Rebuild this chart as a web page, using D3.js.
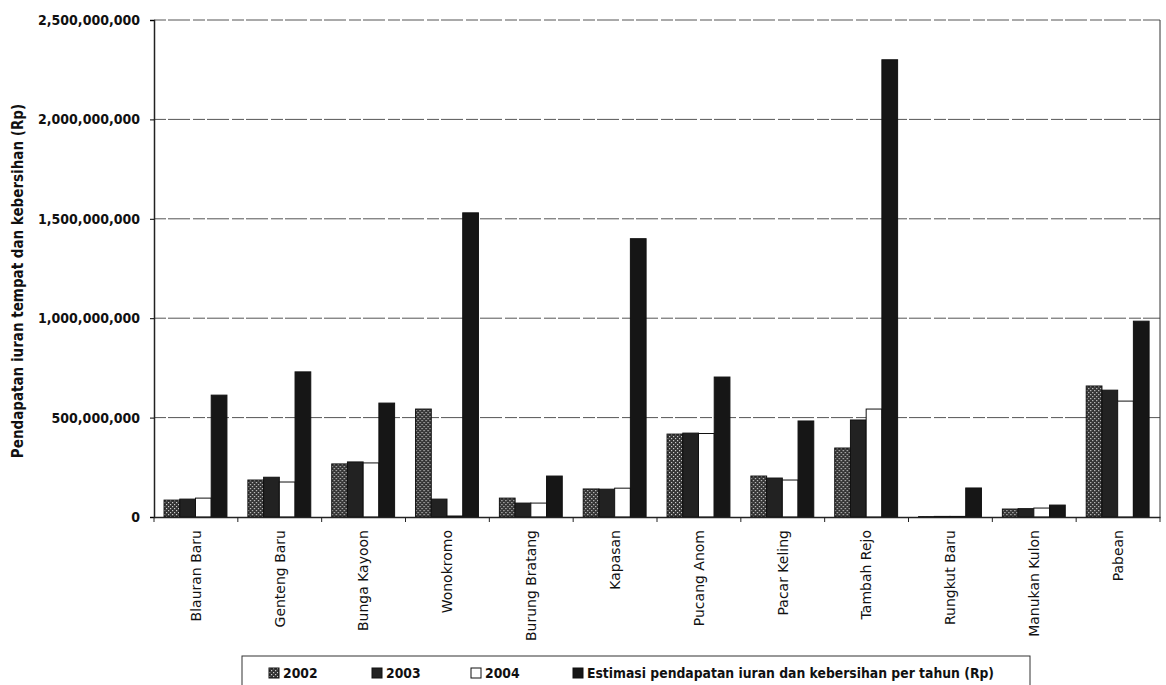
<!DOCTYPE html>
<html>
<head>
<meta charset="utf-8">
<script src="https://cdn.jsdelivr.net/npm/d3@7"></script>
<style>
  body { margin: 0; background: #fff; }
  svg { display: block; }
</style>
</head>
<body>
<div id="chart"></div>
<script>
// categories (kelurahan / pasar)
const categories = ["Blauran Baru", "Genteng Baru", "Bunga Kayoon", "Wonokromo", "Burung Bratang",
  "Kapasan", "Pucang Anom", "Pacar Keling", "Tambah Rejo", "Rungkut Baru", "Manukan Kulon", "Pabean"];

// series values (Rp)
const v2002 = [85e6, 186e6, 267e6, 543e6, 95e6, 141e6, 417e6, 206e6, 347e6, 2e6, 40e6, 659e6];
const v2003 = [90e6, 200e6, 277e6, 90e6, 70e6, 140e6, 422e6, 196e6, 488e6, 3e6, 42e6, 638e6];
const v2004 = [95e6, 176e6, 272e6, 5e6, 70e6, 145e6, 420e6, 186e6, 543e6, 3e6, 45e6, 583e6];
const vEstimasi = [613e6, 730e6, 573e6, 1530e6, 206e6, 1400e6, 704e6, 483e6, 2300e6, 146e6, 60e6, 985e6];

const seriesNames = ["2002", "2003", "2004", "Estimasi pendapatan iuran dan kebersihan per tahun (Rp)"];
const yTicks = [0, 500e6, 1000e6, 1500e6, 2000e6, 2500e6];

const allSeries = [v2002, v2003, v2004, vEstimasi];

const W = 1166, H = 685;
const plot = {left: 154, top: 20, right: 1160, bottom: 517};
const FONT = "'DejaVu Sans Condensed', 'DejaVu Sans', sans-serif";

const svg = d3.select("#chart").append("svg")
    .attr("width", W)
    .attr("height", H)
    .attr("font-family", FONT);

// fills: hatched, near black, white, black
const defs = svg.append("defs");
const pat = defs.append("pattern")
    .attr("id", "hatch")
    .attr("width", 4).attr("height", 4)
    .attr("patternUnits", "userSpaceOnUse");
pat.append("rect").attr("width", 4).attr("height", 4).attr("fill", "#333");
pat.append("rect").attr("x", 0).attr("y", 0).attr("width", 1.2).attr("height", 1.2).attr("fill", "#ccc");
pat.append("rect").attr("x", 2).attr("y", 2).attr("width", 1.2).attr("height", 1.2).attr("fill", "#ccc");

const fills = ["url(#hatch)", "#222", "#fff", "#161616"];

// scales
const xScale = d3.scaleBand()
    .domain(categories)
    .range([plot.left, plot.right]);

const bw = xScale.bandwidth();
const xSub = d3.scaleBand()
    .domain(d3.range(4))
    .range([bw * 0.12, bw * 0.87]);

const yScale = d3.scaleLinear()
    .domain([0, 2500e6])
    .range([plot.bottom, plot.top]);

// gridlines
svg.append("g")
    .selectAll("line")
    .data(yTicks.slice(1))
    .join("line")
    .attr("x1", plot.left).attr("x2", plot.right)
    .attr("y1", d => yScale(d)).attr("y2", d => yScale(d))
    .attr("stroke", "#555")
    .attr("stroke-width", 1)
    .attr("stroke-dasharray", "12,2,22,3");

// right border of plot area
svg.append("line")
    .attr("x1", plot.right).attr("x2", plot.right)
    .attr("y1", plot.top).attr("y2", plot.bottom)
    .attr("stroke", "#333");

// bars
const groups = svg.append("g")
    .selectAll("g")
    .data(categories)
    .join("g")
    .attr("transform", d => "translate(" + xScale(d) + ",0)");

groups.selectAll("rect")
    .data((d, i) => allSeries.map((s, k) => ({k: k, v: s[i]})))
    .join("rect")
    .attr("x", d => xSub(d.k))
    .attr("width", xSub.bandwidth())
    .attr("y", d => yScale(d.v))
    .attr("height", d => plot.bottom - yScale(d.v))
    .attr("fill", d => fills[d.k])
    .attr("stroke", "#111")
    .attr("stroke-width", 1);

// y axis
const yAxis = svg.append("g")
    .attr("transform", "translate(" + plot.left + ",0)")
    .call(d3.axisLeft(yScale)
        .tickValues(yTicks)
        .tickSize(4)
        .tickPadding(10)
        .tickFormat(d3.format(",")))
    .attr("font-family", FONT);
yAxis.select(".domain").attr("stroke", "#222").attr("stroke-width", 1.5);
yAxis.selectAll("text")
    .attr("fill", "#111")
    .style("font-size", "14px")
    .style("font-weight", "bold");

// x axis
const xAxis = svg.append("g")
    .attr("transform", "translate(0," + plot.bottom + ")")
    .call(d3.axisBottom(xScale).tickSize(0).tickPadding(0))
    .attr("font-family", "'DejaVu Sans', sans-serif");
xAxis.select(".domain").attr("stroke", "#222").attr("stroke-width", 1.5);
xAxis.selectAll("text")
    .attr("fill", "#111")
    .style("font-size", "14px")
    .attr("text-anchor", "end")
    .attr("transform", "rotate(-90)")
    .attr("x", -13)
    .attr("y", 0)
    .attr("dy", "0.35em");

// tick marks between categories
svg.append("g")
    .selectAll("line")
    .data(d3.range(categories.length + 1))
    .join("line")
    .attr("x1", i => plot.left + i * bw).attr("x2", i => plot.left + i * bw)
    .attr("y1", plot.bottom).attr("y2", plot.bottom + 5)
    .attr("stroke", "#222");

// y axis title
svg.append("text")
    .attr("transform", "translate(23,281) rotate(-90)")
    .attr("text-anchor", "middle")
    .style("font-size", "15px")
    .style("font-weight", "bold")
    .attr("fill", "#111")
    .text("Pendapatan iuran tempat dan kebersihan (Rp)");

// legend
const legend = svg.append("g");
legend.append("rect")
    .attr("x", 242).attr("y", 656)
    .attr("width", 788).attr("height", 40)
    .attr("fill", "#fff")
    .attr("stroke", "#333");

const legendX = [269, 372, 471, 573];
const items = legend.selectAll("g")
    .data(seriesNames)
    .join("g")
    .attr("transform", (d, i) => "translate(" + legendX[i] + ",668)");
items.append("rect")
    .attr("width", 10).attr("height", 10)
    .attr("fill", (d, i) => fills[i])
    .attr("stroke", "#111");
items.append("text")
    .attr("x", 14).attr("y", 10)
    .style("font-size", "13.8px")
    .style("font-weight", "bold")
    .attr("fill", "#111")
    .text(d => d);
</script>
</body>
</html>
